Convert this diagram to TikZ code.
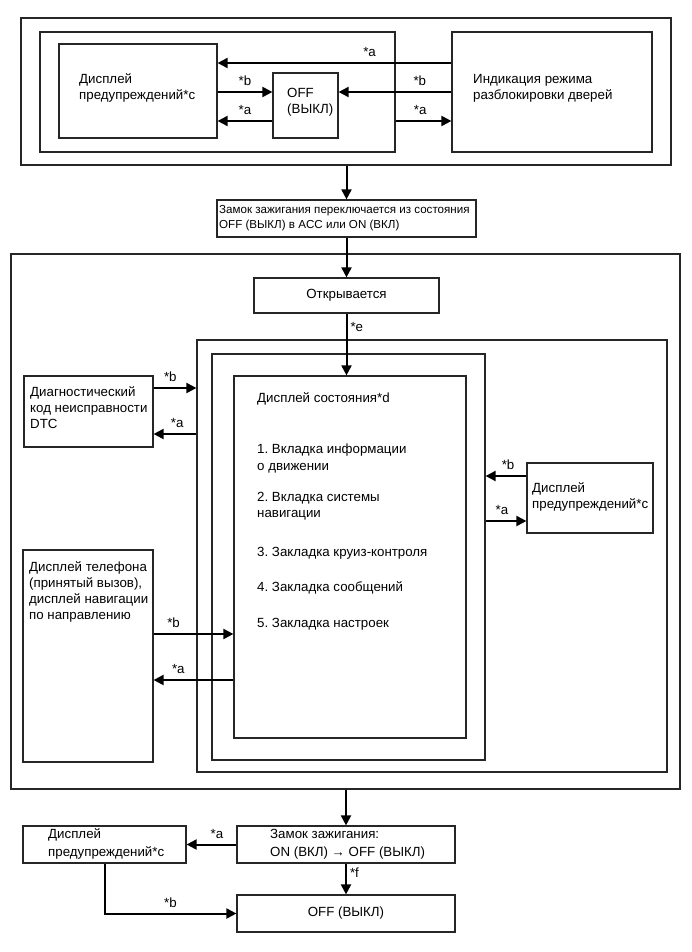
\documentclass[tikz,border=0pt]{standalone}
\usepackage{fontspec}
\setmainfont{Liberation Sans}
\usetikzlibrary{arrows.meta, positioning, calc}
\frenchspacing

\begin{document}
\begin{tikzpicture}[
    x=1pt, y=-1pt,
    font=\fontsize{13.3}{16}\selectfont,
    grp/.style  = {draw=black!85, line width=1.2pt, inner sep=0pt},
    box/.style  = {draw=black!85, line width=1.2pt, inner sep=0pt},
    txt/.style  = {align=left, inner sep=0pt, anchor=west},
    arr/.style  = {-{Triangle[length=10pt, width=10pt]}, line width=2pt},
    lab/.style  = {inner sep=1pt}
  ]
  \useasboundingbox (0,0) rectangle (691,952);

  % --- top block: door unlock indication ---
  \node[grp, minimum width=650, minimum height=147] (topgrp)  at (346,91.5) {};
  \node[grp, minimum width=355, minimum height=120] (leftgrp) at (217.5,92) {};
  \node[box, minimum width=158, minimum height=94]  (warn1)   at (138,91) {};
  \node[box, minimum width=65,  minimum height=65]  (off1)    at (305.5,105.5) {};
  \node[box, minimum width=200, minimum height=120] (door)    at (552,92) {};

  \node[txt] (warn1t) at (79,88)  {Дисплей\\предупреждений*c};
  \node[txt] (off1t)  at (287,102) {OFF\\(ВЫКЛ)};
  \node[txt] (doort)  at (473,88) {Индикация режима\\разблокировки дверей};

  \draw[arr] (door.west |- 0,63) -- node[lab, above=4pt, pos=0.35] {*a} (warn1.east |- 0,63);
  \draw[arr] (door.west |- 0,92) -- node[lab, above=4pt, pos=0.28] {*b} (off1.east |- 0,92);
  \draw[arr] (warn1.east |- 0,92) -- node[lab, above=4pt] {*b} (off1.west |- 0,92);
  \draw[arr] (off1.west |- 0,121) -- node[lab, above=4pt] {*a} (warn1.east |- 0,121);
  \draw[arr] (leftgrp.east |- 0,121) -- node[lab, above=4pt, pos=0.44] {*a} (door.west |- 0,121);

  % --- ignition switch ---
  \node[box, minimum width=259, minimum height=37] (ign1) at (346.5,218.5) {};
  \node[txt, font=\fontsize{11.6}{15}\selectfont] (ign1t) at (219,218.5)
       {Замок зажигания переключается из состояния\\OFF (ВЫКЛ) в ACC или ON (ВКЛ)};
  \draw[arr] (topgrp.south -| ign1.north) -- (ign1.north);

  % --- middle block ---
  \node[grp, minimum width=669, minimum height=535] (bigfrm) at (345.5,521.5) {};
  \node[box, minimum width=185, minimum height=35] (open) at (346.5,295.5) {Открывается};
  \draw[arr] (ign1.south) -- (open.north);

  \node[grp, minimum width=470, minimum height=432] (grp2)   at (432,556) {};
  \node[grp, minimum width=273, minimum height=406] (grp1)   at (348.5,557) {};
  \node[box, minimum width=232, minimum height=362] (status) at (350,557) {};
  \draw[arr] (open.south) -- node[lab, right=2pt, pos=0.22] {*e} (open.south |- status.north);

  \node[txt] (statust) at (257,511)
       {Дисплей состояния*d\\[35pt]
        1. Вкладка информации\\[1pt]
        о движении\\[15pt]
        2. Вкладка системы\\
        навигации\\[23pt]
        3. Закладка круиз-контроля\\[19pt]
        4. Закладка сообщений\\[20pt]
        5. Закладка настроек};

  % --- side boxes ---
  \node[box, minimum width=129, minimum height=71]  (dtc)   at (88.5,411.5) {};
  \node[txt] (dtct) at (30,408) {Диагностический\\код неисправности\\DTC};
  \draw[arr] (dtc.east |- 0,388) -- node[lab, above=4pt, pos=0.39] {*b} (grp2.west |- 0,388);
  \draw[arr] (grp2.west |- 0,434) -- node[lab, above=4pt, pos=0.45] {*a} (dtc.east |- 0,434);

  \node[box, minimum width=126, minimum height=70]  (warn2) at (590,498) {};
  \node[txt] (warn2t) at (532,497) {Дисплей\\предупреждений*c};
  \draw[arr] (warn2.west |- 0,476) -- node[lab, above=4pt, pos=0.45] {*b} (grp1.east |- 0,476);
  \draw[arr] (grp1.east |- 0,521) -- node[lab, above=4pt, pos=0.4] {*a} (warn2.west |- 0,521);

  \node[box, minimum width=130, minimum height=212] (phone) at (88,656) {};
  \node[txt] (phonet) at (29,592)
       {Дисплей телефона\\(принятый вызов),\\дисплей навигации\\по направлению};
  \draw[arr] (phone.east |- 0,634) -- node[lab, above=4pt, pos=0.25] {*b} (status.west |- 0,634);
  \draw[arr] (status.west |- 0,680) -- node[lab, above=4pt, pos=0.69] {*a} (phone.east |- 0,680);

  % --- bottom: ignition off ---
  \node[box, minimum width=218, minimum height=37] (ign2)  at (346,844.5) {};
  \node[txt] (ign2t) at (270,844) {Замок зажигания:\\[2pt]ON (ВКЛ) → OFF (ВЫКЛ)};
  \node[box, minimum width=163, minimum height=37] (warn3) at (104.5,844.5) {};
  \node[txt] (warn3t) at (48,844) {Дисплей\\[2pt]предупреждений*c};
  \node[box, minimum width=218, minimum height=37] (offb)  at (346,913.5) {OFF (ВЫКЛ)};

  \draw[arr] (bigfrm.south -| ign2.north) -- (ign2.north);
  \draw[arr] (ign2.west) -- node[lab, above=4pt, pos=0.39] {*a} (warn3.east);
  \draw[arr] (ign2.south) -- node[lab, right=2pt, pos=0.31] {*f} (offb.north);
  \draw[arr] (warn3.south) |- node[lab, above=4pt, pos=0.75] {*b} (offb.west);

\end{tikzpicture}
\end{document}
